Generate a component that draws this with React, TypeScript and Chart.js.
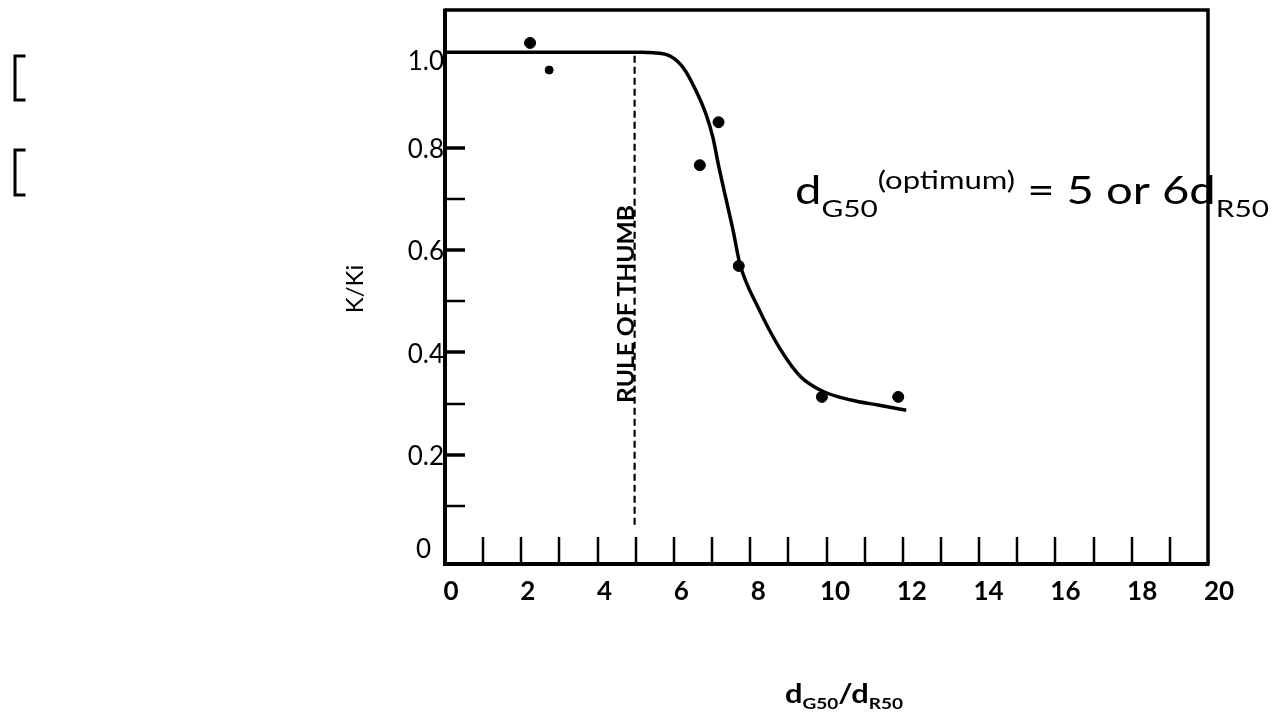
import React, { useEffect, useRef } from "react";
import { Chart, registerables } from "chart.js";

Chart.register(...registerables);

// Measured points (d_G50/d_R50, K/Ki)
const pointX = [2.23, 6.68, 7.17, 7.7, 9.88, 11.88];
const pointY = [1.005, 0.766, 0.85, 0.569, 0.313, 0.313];
const smallPointX = [2.73];
const smallPointY = [0.952];

// Hand-drawn trend curve
const curveX = [0, 5.12, 5.47, 5.91, 6.25, 6.57, 6.83, 7.02, 7.18, 7.36, 7.55, 7.73, 8.2, 8.8, 9.33, 9.93, 10.64, 11.35, 12.09];
const curveY = [0.987, 0.987, 0.986, 0.979, 0.956, 0.913, 0.868, 0.821, 0.762, 0.702, 0.639, 0.573, 0.489, 0.405, 0.352, 0.323, 0.307, 0.297, 0.287];

// Rule-of-thumb marker
const ruleX = [4.97, 4.97];
const ruleY = [0.98, 0.059];

// Axis ticks and labels
const xLabelValues = [0, 2, 4, 6, 8, 10, 12, 14, 16, 18, 20];
const xLabels = ["0", "2", "4", "6", "8", "10", "12", "14", "16", "18", "20"];
const xMinorTicks = [1, 2, 3, 4, 5, 6, 7, 8, 9, 10, 11, 12, 13, 14, 15, 16, 17, 18, 19];
const yLabelValues = [0, 0.2, 0.4, 0.6, 0.8, 1.0];
const yLabels = ["0", "0.2", "0.4", "0.6", "0.8", "1.0"];
const yMinorTicks = [0.1, 0.2, 0.3, 0.4, 0.5, 0.6, 0.7, 0.8];
const yMajorTicks = [0.2, 0.4, 0.6, 0.8];

const FONT = "Lato, 'Open Sans', 'DejaVu Sans', sans-serif";

type Seg = { t: string; size: number; dy: number; weight?: string };

function segWidth(ctx: CanvasRenderingContext2D, segs: Seg[]) {
  let w = 0;
  for (const s of segs) {
    ctx.font = `${s.weight || "normal"} ${s.size}px ${FONT}`;
    w += ctx.measureText(s.t).width;
  }
  return w;
}

function drawRich(ctx: CanvasRenderingContext2D, segs: Seg[], x: number, y: number, targetW?: number) {
  const w = segWidth(ctx, segs);
  const sx = targetW ? targetW / w : 1;
  ctx.save();
  ctx.translate(x, y);
  ctx.scale(sx, 1);
  ctx.textAlign = "left";
  ctx.textBaseline = "alphabetic";
  let cx = 0;
  for (const s of segs) {
    ctx.font = `${s.weight || "normal"} ${s.size}px ${FONT}`;
    ctx.fillText(s.t, cx, s.dy);
    cx += ctx.measureText(s.t).width;
  }
  ctx.restore();
}

const overlay = {
  id: "overlay",
  beforeDatasetsDraw(chart: any) {
    const ctx: CanvasRenderingContext2D = chart.ctx;
    const xs = chart.scales.x;
    const ys = chart.scales.y;
    const { left, right, top, bottom } = chart.chartArea;
    ctx.save();
    ctx.strokeStyle = "#000";
    ctx.fillStyle = "#000";
    ctx.lineCap = "butt";
    // frame
    ctx.lineWidth = 3.5;
    ctx.beginPath();
    ctx.moveTo(left, top);
    ctx.lineTo(right, top);
    ctx.lineTo(right, bottom);
    ctx.stroke();
    ctx.lineWidth = 4;
    ctx.beginPath();
    ctx.moveTo(left, top - 1.5);
    ctx.lineTo(left, bottom);
    ctx.lineTo(right + 1.5, bottom);
    ctx.stroke();
    // inner ticks on x
    ctx.lineWidth = 2.5;
    for (const v of xMinorTicks) {
      const px = Math.round(xs.getPixelForValue(v));
      ctx.beginPath();
      ctx.moveTo(px, bottom);
      ctx.lineTo(px, bottom - 27);
      ctx.stroke();
    }
    // inner ticks on y
    for (const v of yMinorTicks) {
      const py = Math.round(ys.getPixelForValue(v));
      ctx.lineWidth = yMajorTicks.includes(v) ? 3.5 : 2.5;
      ctx.beginPath();
      ctx.moveTo(left, py);
      ctx.lineTo(left + 20, py);
      ctx.stroke();
    }
    ctx.restore();
  },
  afterDatasetsDraw(chart: any) {
    const ctx: CanvasRenderingContext2D = chart.ctx;
    const xs = chart.scales.x;
    const ys = chart.scales.y;
    const { left, bottom } = chart.chartArea;
    ctx.save();
    ctx.fillStyle = "#000";
    ctx.strokeStyle = "#000";

    // x tick labels
    ctx.font = `bold 26px ${FONT}`;
    ctx.textAlign = "center";
    ctx.textBaseline = "middle";
    xLabelValues.forEach((v, i) => {
      const px = xs.getPixelForValue(v) + 6 + i * 0.5;
      ctx.fillText(xLabels[i], px, bottom + 28);
    });

    // y tick labels
    ctx.font = `normal 26px ${FONT}`;
    ctx.textAlign = "right";
    ctx.textBaseline = "middle";
    yLabelValues.forEach((v, i) => {
      let py = ys.getPixelForValue(v) + 2;
      let px = left - 1;
      if (v === 1) py += 14;
      if (v === 0) {
        py -= 9;
        px = left - 14;
      }
      ctx.fillText(yLabels[i], px, py);
    });

    // y axis title
    ctx.save();
    ctx.translate(355, 289);
    ctx.rotate(-Math.PI / 2);
    ctx.font = `normal 24px ${FONT}`;
    ctx.textAlign = "center";
    ctx.textBaseline = "middle";
    ctx.fillText("K/Ki", 0, 0);
    ctx.restore();

    // x axis title
    drawRich(
      ctx,
      [
        { t: "d", size: 26, dy: 0, weight: "bold" },
        { t: "G50", size: 16, dy: 6, weight: "bold" },
        { t: "/d", size: 26, dy: 0, weight: "bold" },
        { t: "R50", size: 16, dy: 6, weight: "bold" },
      ],
      785,
      703,
      118
    );

    // Rule of thumb label (rotated)
    const rx = xs.getPixelForValue(ruleX[0]);
    ctx.save();
    ctx.translate(rx - 1, 304);
    ctx.rotate(-Math.PI / 2);
    ctx.font = `bold 22px ${FONT}`;
    const rw = ctx.measureText("RULE OF THUMB").width;
    ctx.scale(198 / rw, 1);
    ctx.textAlign = "center";
    ctx.textBaseline = "alphabetic";
    ctx.fillText("RULE OF THUMB", 0, 0);
    ctx.restore();

    // annotation
    drawRich(
      ctx,
      [
        { t: "d", size: 38, dy: 0 },
        { t: "G50", size: 24, dy: 13 },
        { t: "(optimum)", size: 25, dy: -15 },
        { t: " = 5 or 6d", size: 38, dy: 0 },
        { t: "R50", size: 24, dy: 13 },
      ],
      795,
      204,
      474
    );

    // brackets at left
    ctx.lineWidth = 3;
    ctx.lineCap = "square";
    for (const [y0, y1] of [
      [56, 100],
      [150, 195],
    ]) {
      ctx.beginPath();
      ctx.moveTo(24, y0);
      ctx.lineTo(15, y0);
      ctx.lineTo(15, y1);
      ctx.lineTo(24, y1);
      ctx.stroke();
    }
    ctx.restore();
  },
};

export default function App() {
  const canvasRef = useRef<HTMLCanvasElement | null>(null);

  useEffect(() => {
    if (!canvasRef.current) return;
    const chart = new Chart(canvasRef.current, {
      type: "scatter",
      data: {
        datasets: [
          {
            type: "line",
            data: curveX.map((x, i) => ({ x, y: curveY[i] })),
            borderColor: "#000",
            borderWidth: 3.5,
            pointRadius: 0,
            cubicInterpolationMode: "monotone",
            fill: false,
          } as any,
          {
            type: "line",
            data: ruleX.map((x, i) => ({ x, y: ruleY[i] })),
            borderColor: "#000",
            borderWidth: 2.2,
            borderDash: [7, 4],
            pointRadius: 0,
            fill: false,
          } as any,
          {
            type: "scatter",
            data: pointX.map((x, i) => ({ x, y: pointY[i] })),
            backgroundColor: "#000",
            borderColor: "#000",
            pointRadius: 5.5,
            borderWidth: 1,
          },
          {
            type: "scatter",
            data: smallPointX.map((x, i) => ({ x, y: smallPointY[i] })),
            backgroundColor: "#000",
            borderColor: "#000",
            pointRadius: 4,
            borderWidth: 1,
          },
        ],
      },
      options: {
        responsive: false,
        maintainAspectRatio: false,
        animation: false,
        devicePixelRatio: 1,
        layout: { padding: { left: 445, top: 10, right: 75, bottom: 154 } },
        plugins: { legend: { display: false }, tooltip: { enabled: false } },
        scales: {
          x: { type: "linear", min: 0, max: 20, display: false },
          y: { type: "linear", min: -0.0137, max: 1.0694, display: false },
        },
      },
      plugins: [overlay],
    });
    return () => chart.destroy();
  }, []);

  return (
    <div style={{ position: "absolute", left: 0, top: 0, width: 1283, height: 718, background: "#fff" }}>
      <canvas ref={canvasRef} width={1283} height={718} style={{ display: "block" }} />
    </div>
  );
}
